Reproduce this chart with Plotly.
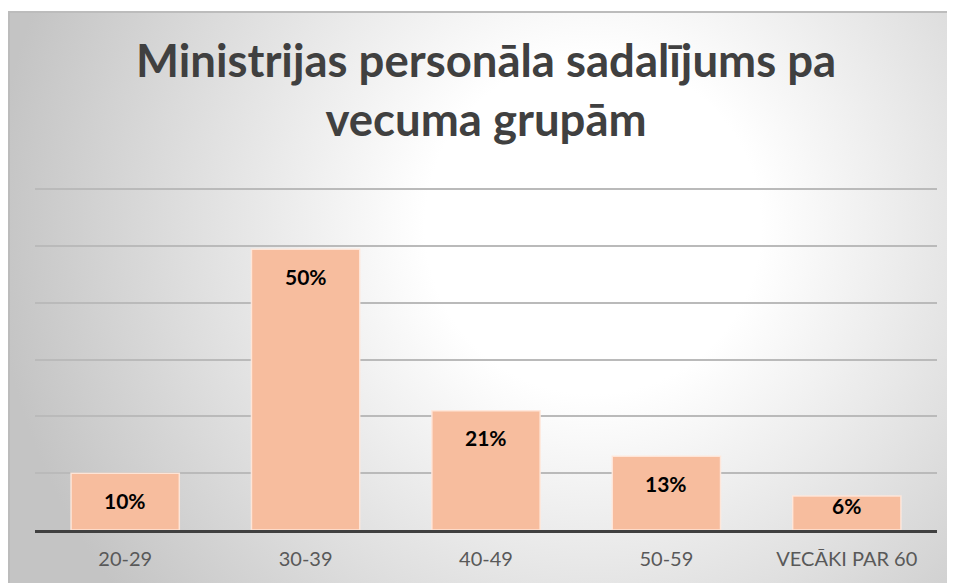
import base64
import plotly.graph_objects as go

categories = ["20-29", "30-39", "40-49", "50-59", "VECĀKI PAR 60"]
values = [10, 49.4, 21, 13, 6]
labels = ["10%", "50%", "21%", "13%", "6%"]
title_text = "Ministrijas personāla sadalījums pa<br>vecuma grupām"

OFF = 8  # page body margin
W, H = 955 - OFF, 583 - OFF
# plot area in page pixels: x 35..937, y 188..530
L = 35 - OFF
R = W - (937 - OFF)
T = 188 - OFF
B = H - (530 - OFF)
pw, ph = W - L - R, H - T - B
YMAX = 60.2

svg = f'''<svg xmlns="http://www.w3.org/2000/svg" width="950" height="580" viewBox="0 0 950 580">
<defs><radialGradient id="g" gradientUnits="userSpaceOnUse" cx="585" cy="215" r="600">
<stop offset="0" stop-color="#ffffff"/><stop offset="0.28" stop-color="#ffffff"/>
<stop offset="1" stop-color="#c4c4c4"/></radialGradient></defs>
<rect x="0" y="0" width="950" height="580" fill="url(#g)"/>
<rect x="1" y="1" width="960" height="600" fill="none" stroke="#bcbcbc" stroke-width="2"/>
</svg>'''
src = "data:image/svg+xml;base64," + base64.b64encode(svg.encode()).decode()

# image from page pixel (8,11)
img_x = ((8 - OFF) - L) / pw
img_y = (H - B - (11 - OFF)) / ph
img_sx = 950 / pw
img_sy = 580 / ph

fig = go.Figure()
fig.add_trace(go.Bar(
    x=categories, y=values,
    marker=dict(color="#F7BD9E", line=dict(color="rgba(255,232,220,0.9)", width=1.5)),
    width=0.6,
    hoverinfo="skip",
))

px_per_unit = ph / YMAX
for c, v, t in zip(categories, values, labels):
    bar_px = v * px_per_unit
    shift = -min(27, bar_px - 24)
    fig.add_annotation(x=c, y=v, text=f"<b>{t}</b>", showarrow=False,
                       yshift=shift, yanchor="middle",
                       font=dict(family="Lato, Carlito, sans-serif", size=21, color="#000000"))

fig.add_annotation(xref="paper", yref="paper", x=0.5, xanchor="center",
                   y=(H - B - (30 - OFF)) / ph, yanchor="top",
                   text=f"<b>{title_text}</b>", showarrow=False,
                   font=dict(family="Lato, Carlito, sans-serif", size=45.5, color="#404040"))

fig.update_layout(
    width=W, height=H,
    margin=dict(l=L, r=R, t=T, b=B, pad=0),
    paper_bgcolor="#ffffff",
    plot_bgcolor="rgba(0,0,0,0)",
    showlegend=False,
    images=[dict(source=src, xref="paper", yref="paper", x=img_x, y=img_y,
                 sizex=img_sx, sizey=img_sy, xanchor="left", yanchor="top",
                 sizing="stretch", layer="below")],
    xaxis=dict(showgrid=False, showline=True, linecolor="#404040", linewidth=3,
               ticks="", ticklabelstandoff=9,
               tickfont=dict(family="Lato, Carlito, sans-serif", size=20, color="#595959"),
               fixedrange=True),
    yaxis=dict(range=[0, YMAX], tick0=0, dtick=10, showgrid=True, gridcolor="#bababa", gridwidth=1.5,
               showticklabels=False, zeroline=False, fixedrange=True),
)
fig.write_html("out.html")
